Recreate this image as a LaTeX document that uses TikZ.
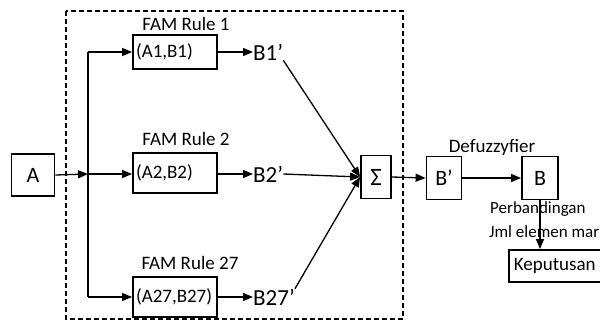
\documentclass[tikz,border=0pt]{standalone}
\usepackage{fontspec}
\setmainfont{Carlito}
\usetikzlibrary{arrows.meta}
\begin{document}
\begin{tikzpicture}[x=1pt,y=-1pt,
 bx/.style={draw, line width=1.8pt, inner sep=0pt, font=\fontsize{19}{21}\selectfont},
 rulebox/.style={bx, minimum height=38pt, text width=78pt, inner xsep=3pt, align=left},
 lbl/.style={font=\fontsize{19}{21}\selectfont, inner sep=0pt},
 sml/.style={font=\fontsize{17}{19}\selectfont, inner sep=0pt},
 bl/.style={font=\fontsize{23}{25}\selectfont, inner sep=0pt},
 big/.style={font=\fontsize{22}{24}\selectfont},
 ar/.style={line width=1.3pt, -{Triangle[length=10pt,width=8pt]}},
 ln/.style={line width=1.3pt}]
\useasboundingbox (0,0) rectangle (600,322);
\clip (0,0) rectangle (600,322);
\draw[line width=1.3pt, dash pattern=on 5pt off 3pt] (66,11) rectangle (403,319);
\node[bx, big, minimum width=43pt, minimum height=42pt] (a) at (33,175) {A};
\coordinate (j) at (88,174);
\coordinate (jt) at (88,52);
\coordinate (jb) at (88,297);
\node[rulebox, minimum height=34pt] (r1) at (175,52) {(A1,B1)};
\node[rulebox, minimum height=40pt] (r2) at (175,173) {(A2,B2)};
\node[rulebox, minimum height=40pt] (r27) at (175,297) {(A27,B27)};
\node[lbl] (t1) at (186,24) {FAM Rule 1};
\node[lbl] (t2) at (186,139) {FAM Rule 2};
\node[lbl] (t27) at (190,263) {FAM Rule 27};
\node[bl, anchor=west] (b1) at (253,52) {B1’};
\node[bl, anchor=west] (b2) at (253,174) {B2’};
\node[bl, anchor=west] (b27) at (253,297) {B27’};
\node[bx, font=\fontsize{25}{27}\selectfont, minimum width=30pt, minimum height=43pt] (sig) at (376,177) {Σ};
\node[bx, big, minimum width=35pt, minimum height=43pt] (bp) at (444,178) {B’};
\node[bx, big, minimum width=36pt, minimum height=43pt] (b) at (540,178) {B};
\node[lbl] (def) at (492,147) {Defuzzyfier};
\node[sml, anchor=west] (per) at (490,209) {Perbandingan};
\node[sml, anchor=west] (jml) at (489,232) {Jml elemen mar};
\node[bx, anchor=west, minimum width=110pt, minimum height=32pt, text width=100pt, inner xsep=5pt, align=left] (kep) at (508,266) {Keputusan};
\draw[ar] (a.east) -- (j);
\draw[ln] (jt) -- (jb);
\draw[ar] (jt) -- (r1.west);
\draw[ar] (j) -- (r2.west |- j);
\draw[ar] (jb) -- (r27.west);
\draw[ar] (r1.east) -- (b1.west);
\draw[ar] (r2.east |- b2) -- (b2.west);
\draw[ar] (r27.east) -- (b27.west);
\draw[ar] (b1.south east) -- (sig.west);
\draw[ar] (b2.east) -- (sig.west);
\draw[ar] (b27.north east) -- (sig.west);
\draw[ar] (sig.east) -- (bp.west);
\draw[ar] (bp.east) -- (b.west);
\draw[ar] (b.south) -- (b.south |- kep.north);
\end{tikzpicture}
\end{document}
